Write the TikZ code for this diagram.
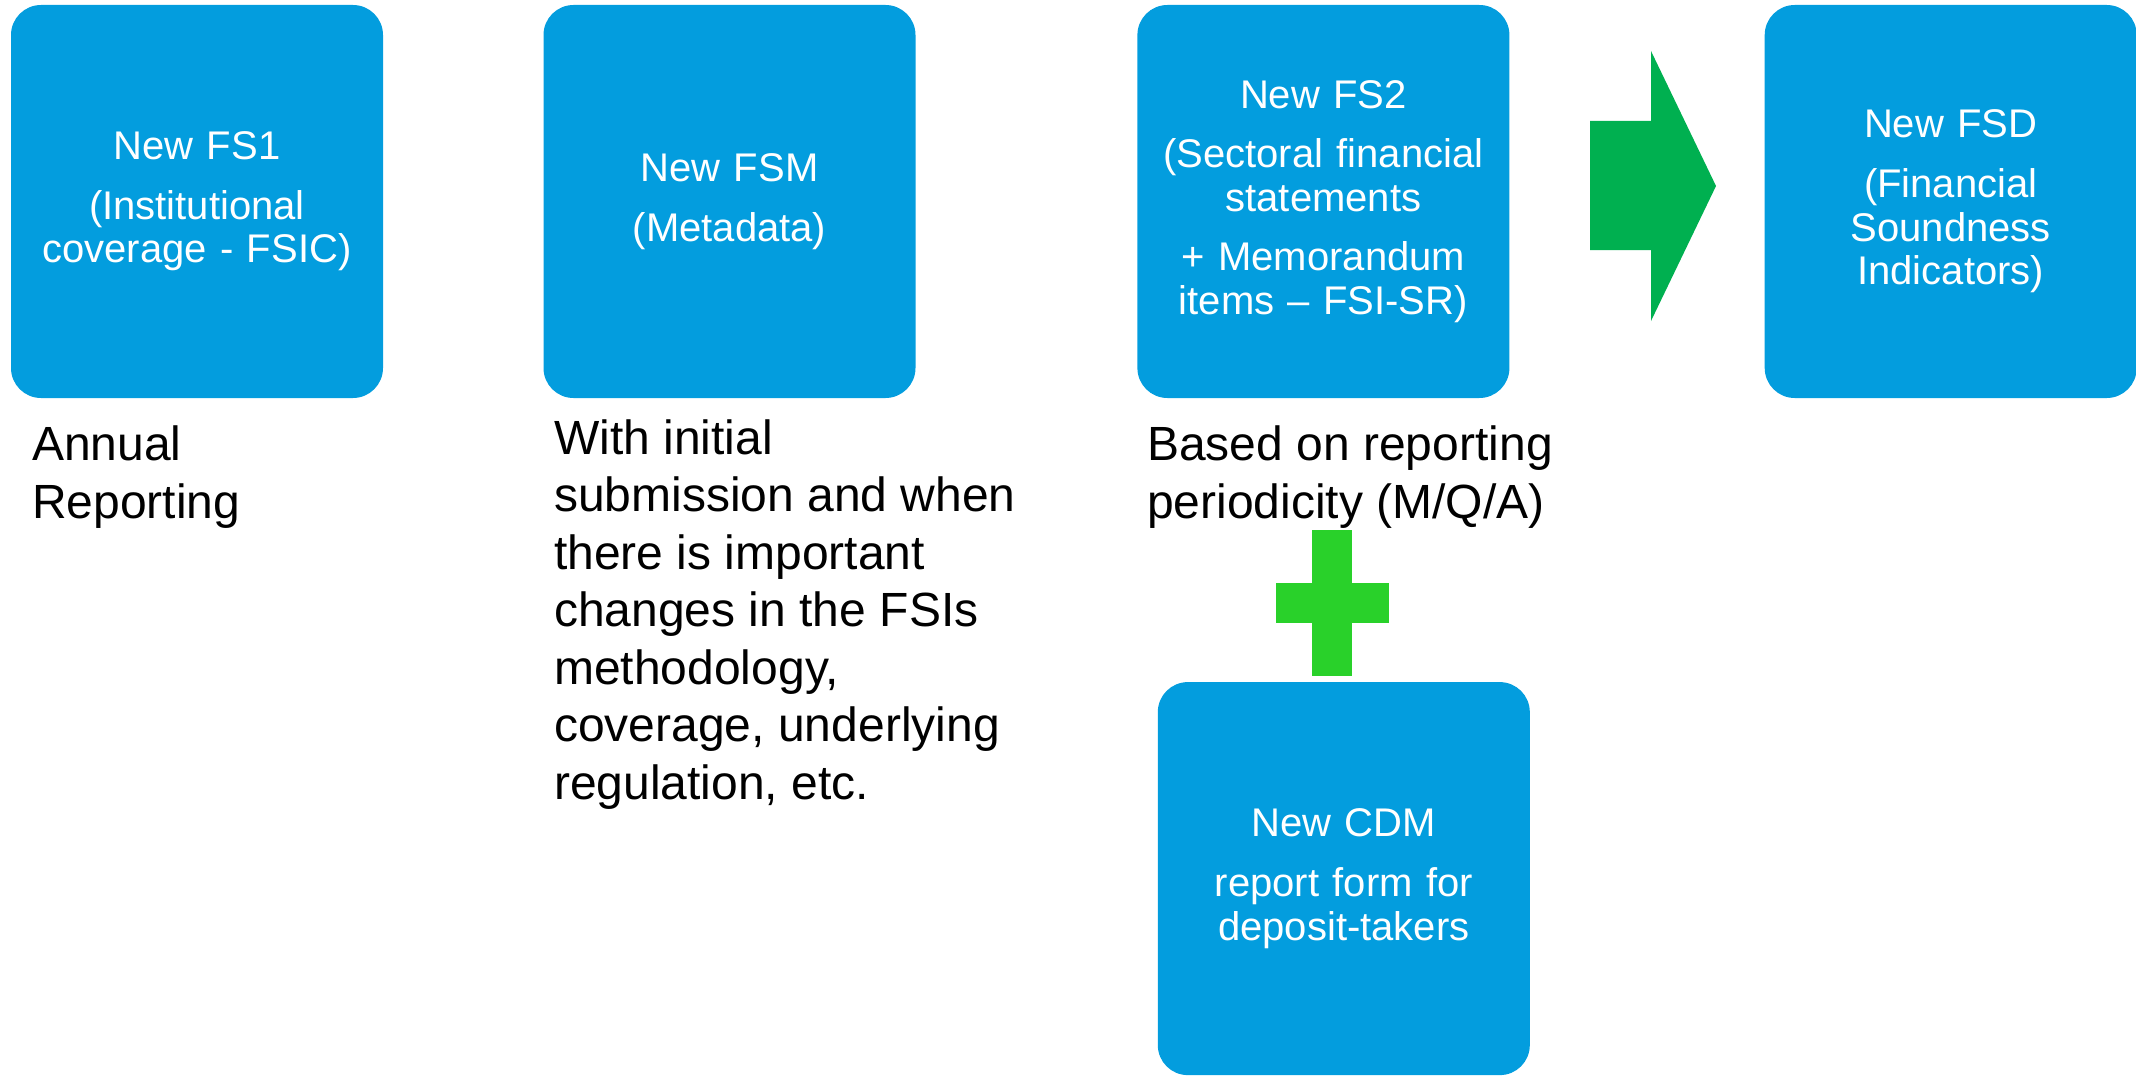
\documentclass[tikz,border=0pt]{standalone}
\usepackage{fontspec}
\setmainfont{Liberation Sans}
\usepackage{tikz}
\definecolor{fsblue}{RGB}{3, 157, 222}
\definecolor{arrowgreen}{RGB}{0, 176, 80}
\definecolor{plusgreen}{RGB}{41, 209, 42}

\tikzset{
  formbox/.style={fill=fsblue, rounded corners=30pt, inner sep=0pt,
    minimum width=372pt, minimum height=393pt, text width=340pt,
    align=center, text=white, font=\fontsize{40}{43.6}\selectfont},
  note/.style={anchor=base west, inner sep=0pt, align=left,
    font=\fontsize{48}{57.5}\selectfont}
}

\begin{document}
\begin{tikzpicture}[x=1pt, y=-1pt]
  \useasboundingbox (0, 0) rectangle (2136, 1078);

  \node[formbox] (fs1) at (197, 201.5) { New FS1\\[16pt] (Institutional\\ coverage - FSIC) };
  \node[formbox] (fsm) at (729.5, 201.5) { New FSM\\[16pt] (Metadata) };
  \node[formbox] (fs2) at (1323.4, 201.5) { New FS2\\[16pt] (Sectoral financial\\ statements\\[16pt] + Memorandum\\ items -- FSI-SR) };
  \node[formbox] (fsd) at (1950.7, 201.5) { New FSD\\[16pt] (Financial\\ Soundness\\ Indicators) };
  \node[formbox] (cdm) at (1343.8, 878.6) { New CDM\\[16pt] report form for\\ deposit-takers };

  % notes: anchored at the baseline of their last line
  \node[note] (fs1note) at (32, 518) { Annual\\ Reporting };
  \node[note] (fsmnote) at (554, 799) { With initial\\ submission and when\\ there is important\\ changes in the FSIs\\ methodology,\\ coverage, underlying\\ regulation, etc. };
  \node[note] (fs2note) at (1147, 518) { Based on reporting\\ periodicity (M/Q/A) };

  % arrow from FS2 to FSD
  \fill [fill=arrowgreen] (1590, 121) -- (1651, 121) -- (1651, 51) -- (1716, 186)
    -- (1651, 321) -- (1651, 250) -- (1590, 250) -- cycle;

  % plus between FS2 and CDM
  \fill [fill=plusgreen] (1312, 530) rectangle (1352, 676);
  \fill [fill=plusgreen] (1276, 583) rectangle (1389, 623);

\end{tikzpicture}
\end{document}
